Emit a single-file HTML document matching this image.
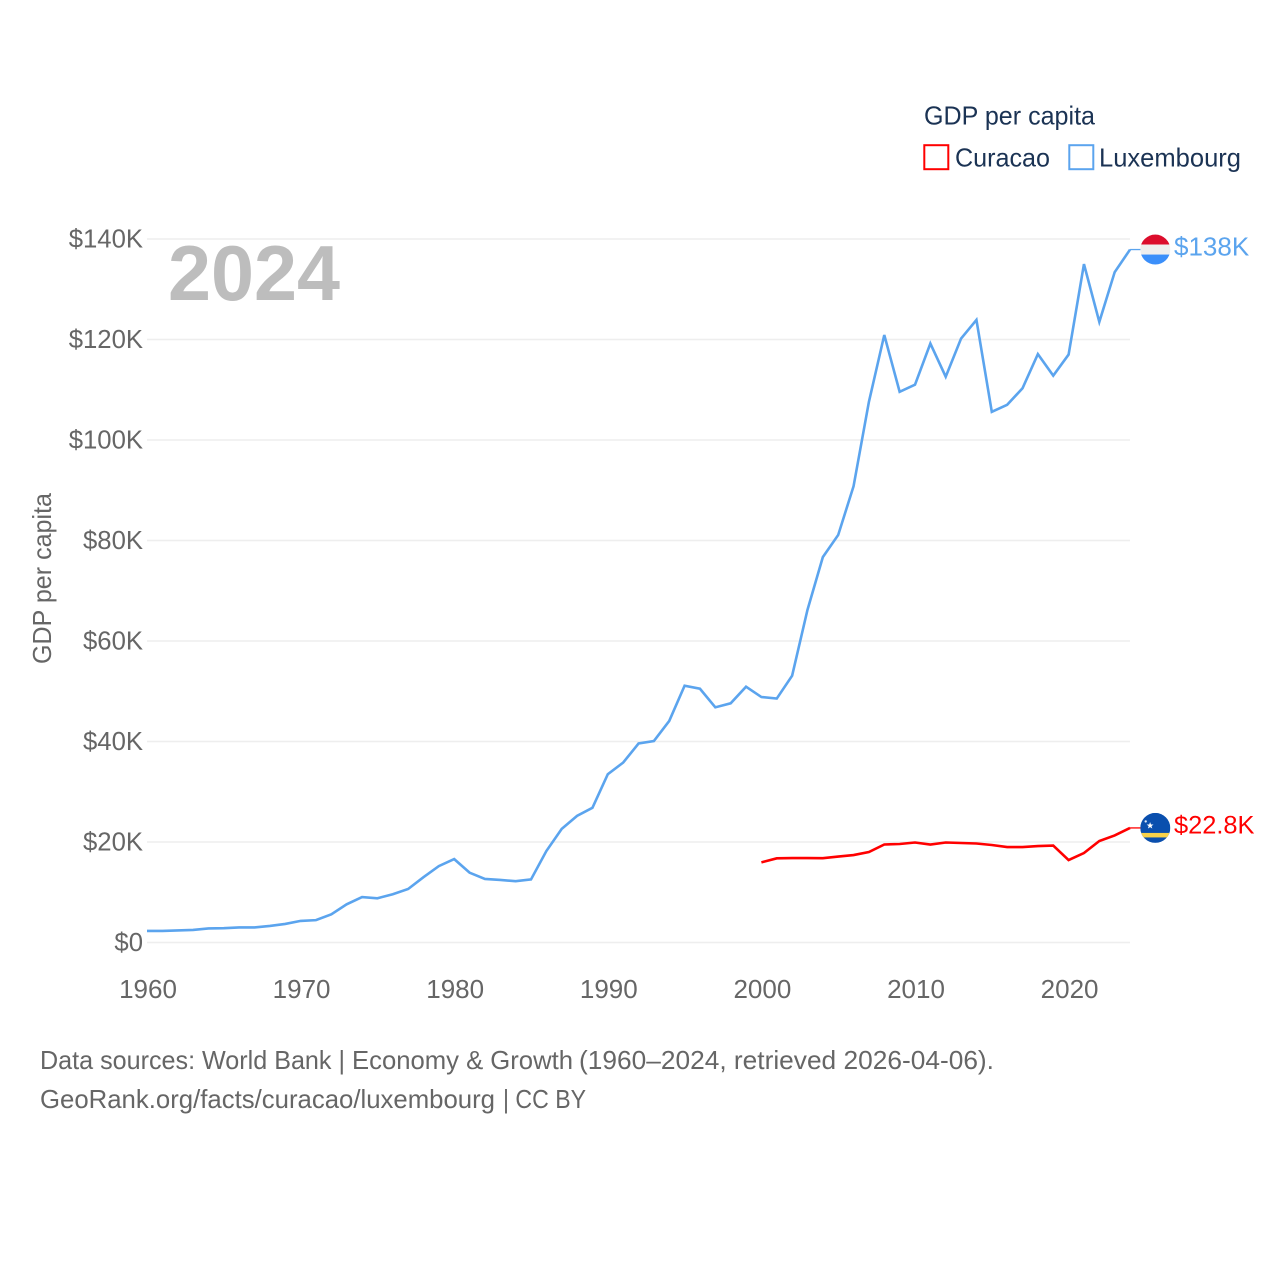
<!DOCTYPE html>
<html lang="en">
<head>
<meta charset="utf-8">
<title>GDP per capita: Curacao and Luxembourg</title>
<style>
html,body{margin:0;padding:0;background:#fff;}
svg{display:block;font-family:"Liberation Sans",sans-serif;}
</style>
</head>
<body>
<svg id="chart" width="1280" height="1280" viewBox="0 0 1280 1280" xmlns="http://www.w3.org/2000/svg">
  <rect width="1280" height="1280" fill="#ffffff"/>
  <g id="grid"></g>
  <g id="yticks"></g>
  <g id="xticks"></g>
  <text transform="translate(51,578.5) rotate(-90)" text-anchor="middle" font-size="26" fill="#666666" textLength="171" lengthAdjust="spacingAndGlyphs">GDP per capita</text>
  <text x="168" y="300" font-size="78" font-weight="bold" fill="#bdbdbd" textLength="172" lengthAdjust="spacingAndGlyphs">2024</text>
  <g id="series"></g>
  <g id="ends"></g>
  <g>
    <text x="924" y="124.5" font-size="26" fill="#1b3354" textLength="171" lengthAdjust="spacingAndGlyphs">GDP per capita</text>
    <rect x="924.3" y="145.2" width="24" height="24" fill="none" stroke="#ff0000" stroke-width="2"/>
    <text x="955" y="166.5" font-size="26" fill="#1b3354" textLength="95" lengthAdjust="spacingAndGlyphs">Curacao</text>
    <rect x="1069.3" y="145.2" width="24" height="24" fill="none" stroke="#5ba4ee" stroke-width="2"/>
    <text x="1099" y="166.5" font-size="26" fill="#1b3354" textLength="142" lengthAdjust="spacingAndGlyphs">Luxembourg</text>
  </g>
  <g font-size="26" fill="#666666">
    <text x="40" y="1069" textLength="305" lengthAdjust="spacingAndGlyphs">Data sources: World Bank |</text>
    <text x="352" y="1069" textLength="221" lengthAdjust="spacingAndGlyphs">Economy &amp; Growth</text>
    <text x="579" y="1069" textLength="415" lengthAdjust="spacingAndGlyphs">(1960–2024, retrieved 2026-04-06).</text>
    <text x="40" y="1108" textLength="455" lengthAdjust="spacingAndGlyphs">GeoRank.org/facts/curacao/luxembourg</text>
    <text x="503" y="1108" textLength="83" lengthAdjust="spacingAndGlyphs">| CC BY</text>
  </g>
</svg>
<script>
const yTickValues = [0, 20, 40, 60, 80, 100, 120, 140];
const yTickLabels = ["$0", "$20K", "$40K", "$60K", "$80K", "$100K", "$120K", "$140K"];
const xTickYears = [1960, 1970, 1980, 1990, 2000, 2010, 2020];
const luxembourgStartYear = 1960;
const luxembourgValues = [2.3, 2.3, 2.4, 2.5, 2.8, 2.85, 3.0, 3.0, 3.3, 3.7, 4.3, 4.45, 5.6, 7.6, 9.05, 8.8, 9.6, 10.65, 13.0, 15.2, 16.6, 13.9, 12.65, 12.45, 12.2, 12.55, 18.2, 22.6, 25.2, 26.8, 33.5, 35.8, 39.6, 40.1, 44.1, 51.1, 50.5, 46.8, 47.6, 50.9, 48.85, 48.55, 53.1, 66.2, 76.7, 81.1, 90.8, 107.6, 120.9, 109.6, 111.0, 119.2, 112.6, 120.2, 123.9, 105.6, 107.0, 110.3, 117.1, 112.8, 117.0, 135.0, 123.5, 133.4, 137.9];
const curacaoStartYear = 2000;
const curacaoValues = [15.95, 16.75, 16.8, 16.8, 16.78, 17.1, 17.4, 18.0, 19.5, 19.6, 19.9, 19.5, 19.9, 19.8, 19.7, 19.4, 19.0, 19.0, 19.2, 19.3, 16.4, 17.8, 20.2, 21.3, 22.8];
const luxembourgEndLabel = "$138K";
const curacaoEndLabel = "$22.8K";

const NS = "http://www.w3.org/2000/svg";
const X0 = 147, XPERYEAR = 15.36, Y0 = 942.5, YPERK = 5.025;
function xScale(year) { return X0 + (year - 1960) * XPERYEAR; }
function yScale(value) { return Y0 - value * YPERK; }
function make(tag, attrs, parent) {
  const el = document.createElementNS(NS, tag);
  for (const k in attrs) el.setAttribute(k, attrs[k]);
  parent.appendChild(el);
  return el;
}

const grid = document.getElementById("grid");
const yticks = document.getElementById("yticks");
yTickValues.forEach(function (v, i) {
  const line = make("line", {x1: X0, x2: 1130, y1: yScale(v), y2: yScale(v), stroke: "#eeeeee", "stroke-width": 1.6}, grid);
  
  
  const label = make("text", {x: 143, y: yScale(v) + 8.5, "text-anchor": "end", "font-size": 25.7, fill: "#666666"}, yticks);
  
  
  label.textContent = yTickLabels[i];
});

const xticks = document.getElementById("xticks");
xTickYears.forEach(function (year) {
  const label = make("text", {x: xScale(year) + 1, y: 998, "text-anchor": "middle", "font-size": 26, fill: "#666666"}, xticks);
  
  
  label.textContent = String(year);
});

const series = document.getElementById("series");
function drawLine(values, startYear, color) {
  const pts = values.map(function (v, i) { return xScale(startYear + i).toFixed(2) + "," + yScale(v).toFixed(2); });
  return make("polyline", {points: pts.join(" "), fill: "none", stroke: color, "stroke-width": 2.6, "stroke-linejoin": "miter"}, series);
}
const luxLine = drawLine(luxembourgValues, luxembourgStartYear, "#5ba4ee");


const curLine = drawLine(curacaoValues, curacaoStartYear, "#ff0000");



const ends = document.getElementById("ends");
const defs = make("defs", {}, ends);
const clip = make("clipPath", {id: "flag-clip"}, defs);
make("circle", {cx: 0, cy: 0, r: 15}, clip);

function endMarker(values, startYear, color, labelText) {
  const last = values[values.length - 1];
  const lastX = xScale(startYear + values.length - 1);
  const yy = yScale(last);
  const connector = make("line", {x1: lastX, x2: 1141, y1: yy, y2: yy, stroke: color, "stroke-width": 1.3}, ends);
  const flag = make("g", {transform: "translate(1155.3," + yy + ")", "clip-path": "url(#flag-clip)"}, ends);
  const label = make("text", {x: 1174, y: yy + 5.8, "font-size": 26, fill: color}, ends);
  label.textContent = labelText;
  return {connector: connector, flag: flag, label: label};
}

const luxEnd = endMarker(luxembourgValues, luxembourgStartYear, "#5ba4ee", luxembourgEndLabel);






make("rect", {x: -15, y: -15, width: 30, height: 10, fill: "#dc0d2c"}, luxEnd.flag);
make("rect", {x: -15, y: -5, width: 30, height: 10, fill: "#eeeeee"}, luxEnd.flag);
make("rect", {x: -15, y: 5, width: 30, height: 10, fill: "#3b8ffa"}, luxEnd.flag);

const curEnd = endMarker(curacaoValues, curacaoStartYear, "#ff0000", curacaoEndLabel);






curEnd.label.setAttribute('font-size', '25.4');
make("rect", {x: -15, y: -15, width: 30, height: 30, fill: "#0a4fae"}, curEnd.flag);
make("rect", {x: -15, y: 5, width: 30, height: 4.5, fill: "#f9d24a"}, curEnd.flag);
make("polygon", {points: "-5.2,-5.8 -4.3,-3.4 -1.8,-3.4 -3.8,-1.8 -3,0.6 -5.2,-0.8 -7.4,0.6 -6.6,-1.8 -8.6,-3.4 -6.1,-3.4", fill: "#ffffff"}, curEnd.flag);
make("circle", {cx: -9.6, cy: -6.5, r: 1.2, fill: "#dfe8f5"}, curEnd.flag);
</script>
</body>
</html>
